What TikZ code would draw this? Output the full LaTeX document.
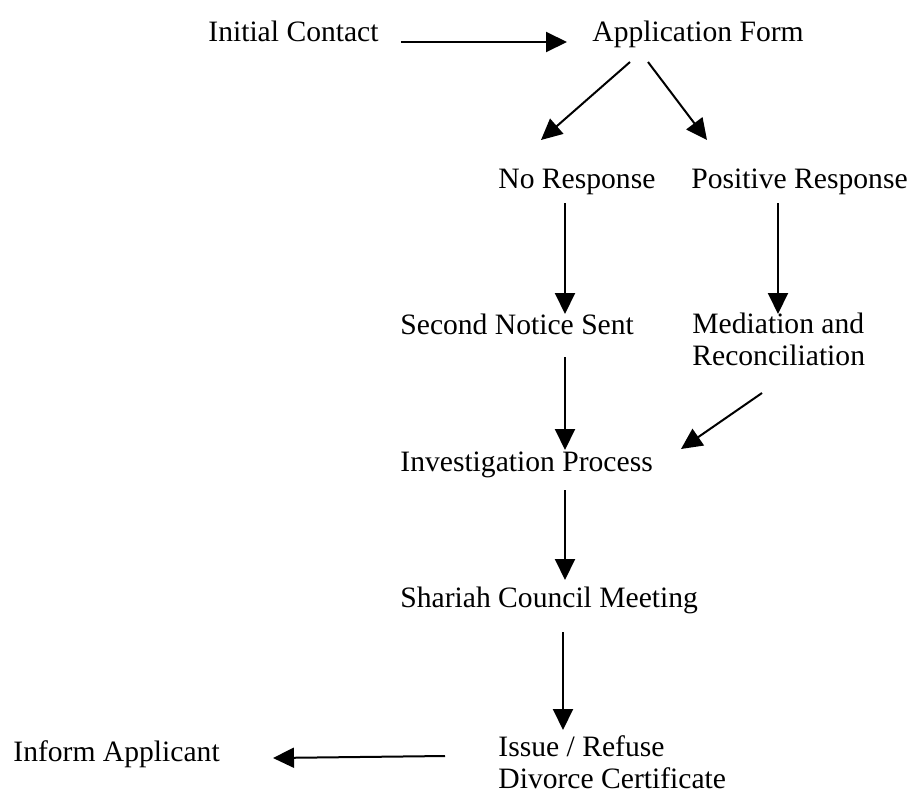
\documentclass[tikz,border=0pt]{standalone}
\usepackage{fontspec}
\setmainfont{Liberation Serif}
\usetikzlibrary{arrows.meta}
\begin{document}
\begin{tikzpicture}[x=0.5pt,y=-0.5pt,
		stage/.style={anchor=base west,inner sep=0pt,align=left,font=\fontsize{14.8}{16}\selectfont},
		flow/.style={-{Triangle[length=10.5pt,width=10pt]},line width=1pt}]
				\useasboundingbox (0,0) rectangle (910,798);
				\node[stage] (contact) at (208,41) {Initial Contact};
				\node[stage] (form) at (592,41) {Application Form};
				\node[stage] (noresp) at (498,188) {No Response};
				\node[stage] (posresp) at (691,188) {Positive Response};
				\node[stage] (notice) at (400,334) {Second Notice Sent};
				\node[stage] (mediation) at (692,365) {Mediation and\\Reconciliation};
				\node[stage] (investigation) at (400,471) {Investigation Process};
				\node[stage] (council) at (400,607) {Shariah Council Meeting};
				\node[stage] (certificate) at (498,788) {Issue / Refuse\\Divorce Certificate};
				\node[stage] (inform) at (13,761) {Inform Applicant};
				\draw[flow] ([shift={(22,1)}]contact.base east)--([shift={(-25,1)}]form.base west);
				\draw[flow] ([shift={(38,21)}]form.base west)--([shift={(43,-48)}]noresp.base west);
				\draw[flow] ([shift={(56,21)}]form.base west)--([shift={(16,-48)}]posresp.base west);
				\draw[flow] ([shift={(67,15)}]noresp.base west)--([shift={(165,-20)}]notice.base west);
				\draw[flow] ([shift={(87,15)}]posresp.base west)--([shift={(86,-51)}]mediation.base west);
				\draw[flow] ([shift={(165,23)}]notice.base west)--([shift={(165,-21)}]investigation.base west);
				\draw[flow] ([shift={(70,28)}]mediation.base west)--([shift={(281,-22)}]investigation.base west);
				\draw[flow] ([shift={(165,19)}]investigation.base west)--([shift={(165,-27)}]council.base west);
				\draw[flow] ([shift={(163,25)}]council.base west)--([shift={(65,-58)}]certificate.base west);
				\draw[flow] ([shift={(-53,-32)}]certificate.base west)--([shift={(260,-3)}]inform.base west);
			\end{tikzpicture}
\end{document}
